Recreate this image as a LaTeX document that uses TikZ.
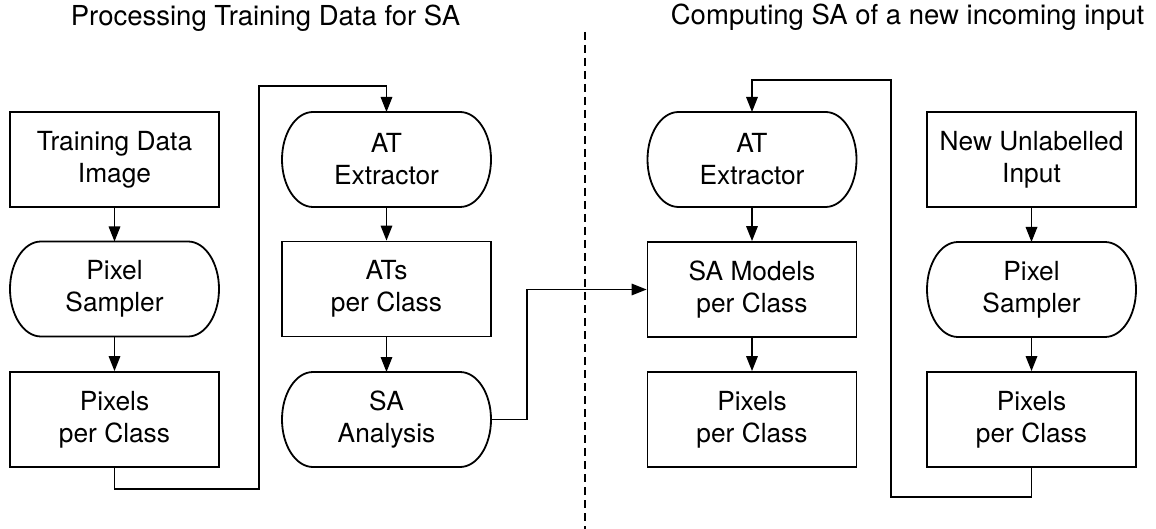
\documentclass[tikz,border=0pt]{standalone}
\usepackage{fontspec}
\setmainfont{TeX Gyre Heros}
\usetikzlibrary{arrows.meta}
\tikzset{
  box/.style={minimum width=209pt, minimum height=95pt, align=center, inner sep=0pt,
    font=\fontsize{26.3}{32}\selectfont, line width=1.8pt},
  rectbox/.style={box, draw},
  termbox/.style={box, outer sep=0pt},
  shapeline/.style={line width=1.8pt, line join=round},
  conn/.style={line width=1.7pt, -{Triangle[length=15pt,width=11.5pt]}},
  title/.style={font=\fontsize{27.5}{32}\selectfont, inner sep=0pt},
  divider/.style={line width=1.8pt, dash pattern=on 8pt off 5pt}
}
\newcommand\termdraw[1]{\draw[shapeline] ([xshift=31pt]#1.north west) -- ([xshift=-31pt]#1.north east) arc[start angle=90,end angle=-90,x radius=31pt,y radius=47.5pt] -- ([xshift=31pt]#1.south west) arc[start angle=270,end angle=90,x radius=31pt,y radius=47.5pt] -- cycle;}
\begin{document}
\begin{tikzpicture}[x=1pt,y=1pt]
\useasboundingbox (0,0) rectangle (1156,-529);
% titles
\node[title] (t1) at (265.5,-18.5) {Processing Training Data for SA};
\node[title] (t2) at (907.5,-17.5) {Computing SA of a new incoming input};
% divider
\coordinate (d1) at (585,-32);
\coordinate (d2) at (585,-529);
\draw[divider] (d1) -- (d2);
% left column
\node[rectbox] (td) at (114.5,-159.5) {Training Data\\Image};
\node[termbox] (ps1) at (114.5,-289) {Pixel\\Sampler};
\node[rectbox] (pc1) at (114.5,-419.5) {Pixels\\per Class};
% middle column
\node[termbox] (ate1) at (386.5,-159.5) {AT\\Extractor};
\node[rectbox] (atc) at (386.5,-289) {ATs\\per Class};
\node[termbox] (saa) at (386.5,-419.5) {SA\\Analysis};
% right part
\node[termbox] (ate2) at (752,-159.5) {AT\\Extractor};
\node[rectbox] (sam) at (752,-289.5) {SA Models\\per Class};
\node[rectbox] (pc2) at (752,-419.5) {Pixels\\per Class};
\node[rectbox] (nui) at (1031.5,-159.5) {New Unlabelled\\Input};
\node[termbox] (ps2) at (1031.5,-289.5) {Pixel\\Sampler};
\node[rectbox] (pc3) at (1031.5,-419.5) {Pixels\\per Class};
\termdraw{ps1}
\termdraw{ate1}
\termdraw{saa}
\termdraw{ate2}
\termdraw{ps2}
% connectors
\draw[conn] (td) -- (ps1);
\draw[conn] (ps1) -- (pc1);
\draw[conn] (ate1) -- (atc);
\draw[conn] (atc) -- (saa);
\draw[conn] (ate2) -- (sam);
\draw[conn] (sam) -- (pc2);
\draw[conn] (nui) -- (ps2);
\draw[conn] (ps2) -- (pc3);
\coordinate (c1) at (259,-489);
\coordinate (c2) at (259,-86);
\draw[conn, line join=miter] (pc1.south) |- (c1) -- (c2) -| (ate1.north);
\coordinate (c3) at (527,-289.5);
\draw[conn, line join=miter] (saa.east) -| (c3) -- (sam.west);
\coordinate (c4) at (891,-497);
\coordinate (c5) at (891,-80);
\draw[conn, line join=miter] (pc3.south) |- (c4) -- (c5) -| (ate2.north);
\end{tikzpicture}
\end{document}
